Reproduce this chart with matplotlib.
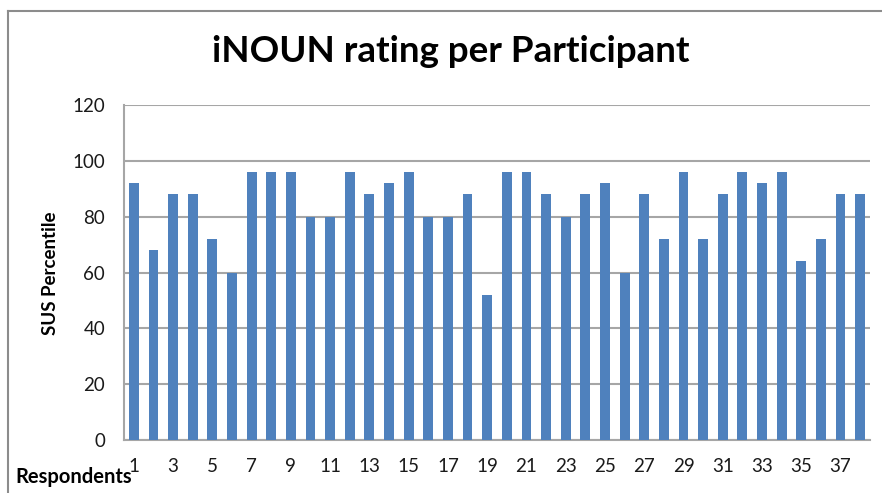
import matplotlib
matplotlib.use("Agg")
import matplotlib.pyplot as plt
from matplotlib.lines import Line2D

respondents = list(range(1, 39))
sus_percentile = [92, 68, 88, 88, 72, 60, 96, 96, 96, 80,
                  80, 96, 88, 92, 96, 80, 80, 88, 52, 96,
                  96, 88, 80, 88, 92, 60, 88, 72, 96, 72,
                  88, 96, 92, 96, 64, 72, 88, 88]
y_ticks = [0, 20, 40, 60, 80, 100, 120]
x_tick_labels = [str(r) for r in respondents if r % 2 == 1]

plt.rcParams['font.family'] = ['Lato', 'DejaVu Sans']

W, H = 882, 493
fig = plt.figure(figsize=(W / 100, H / 100), dpi=100)
fig.patch.set_facecolor('white')

# outer chart border (left and top visible)
fig.add_artist(Line2D([8 / W, 8 / W], [0, 1 - 11 / H], transform=fig.transFigure,
                      color='#8c8c8c', lw=1.5))
fig.add_artist(Line2D([8 / W, 1], [1 - 11 / H, 1 - 11 / H], transform=fig.transFigure,
                      color='#8c8c8c', lw=1.5))

ax = fig.add_axes([124 / W, 1 - 440 / H, (870 - 124) / W, (440 - 105) / H])
ax.bar(respondents, sus_percentile, width=0.5, color='#4F81BD', zorder=3)
ax.set_xlim(0.5, 38.5)
ax.set_ylim(0, 120)
ax.set_yticks(y_ticks)
ax.set_yticklabels([str(v) for v in y_ticks], fontsize=13.5, color='#1a1a1a')
ax.set_xticks([r for r in respondents if r % 2 == 1])
ax.set_xticklabels(x_tick_labels, fontsize=13.5, color='#1a1a1a')
ax.tick_params(axis='both', length=0)
ax.tick_params(axis='y', pad=13.5)
ax.tick_params(axis='x', pad=13)
ax.grid(axis='y', color='#a6a6a6', lw=1.5, zorder=0)
for s in ['top', 'right']:
    ax.spines[s].set_visible(False)
for s in ['left', 'bottom']:
    ax.spines[s].set_color('#a6a6a6')
    ax.spines[s].set_linewidth(1.5)

fig.text(451 / W, 1 - 52 / H, 'iNOUN rating per Participant', ha='center', va='center',
         fontsize=26.5, fontweight='bold', color='black')
fig.text(50 / W, 1 - 273 / H, 'SUS Percentile', rotation=90, ha='center', va='center',
         fontsize=13.5, fontweight='bold', color='black')
fig.text(15 / W, 1 - 477 / H, 'Respondents', ha='left', va='center',
         fontsize=14.5, fontweight='bold', color='black')

fig.savefig('out.png', dpi=100, facecolor='white')
